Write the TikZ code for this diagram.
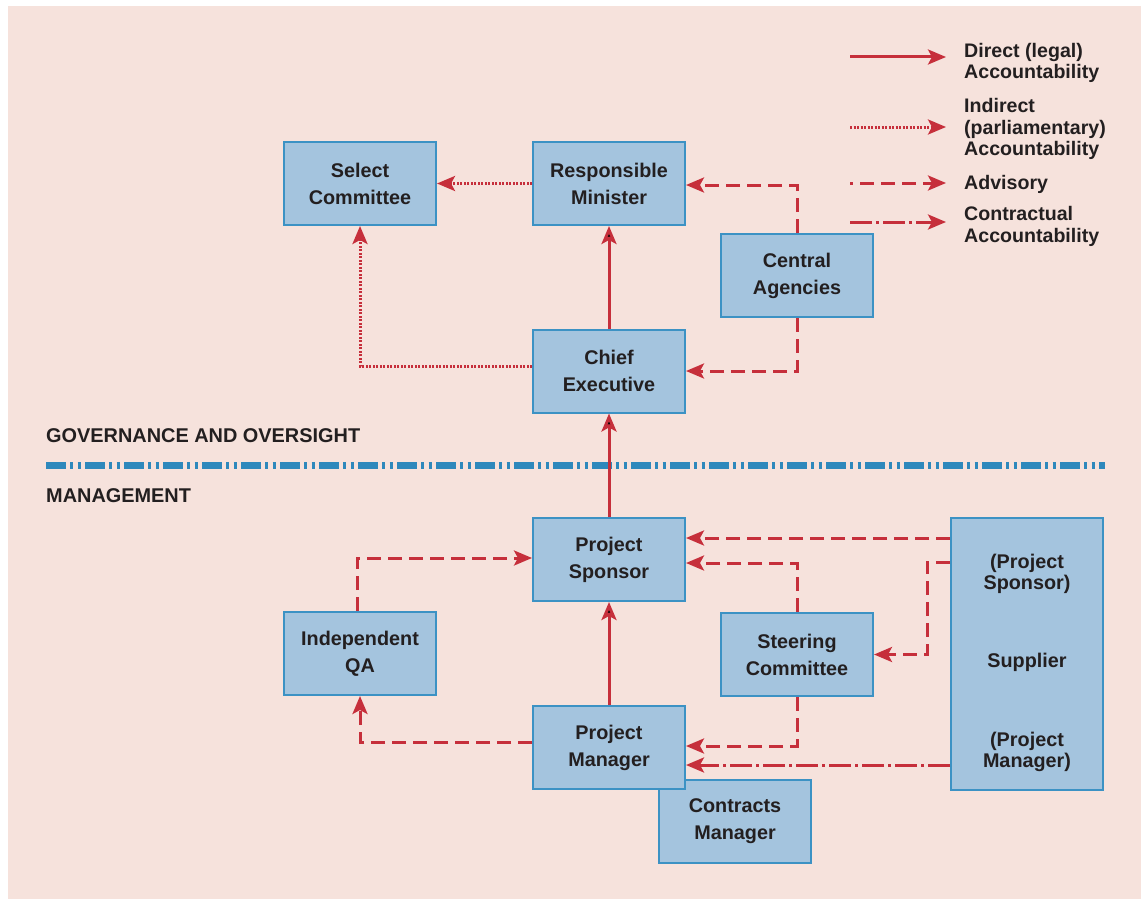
\documentclass[tikz,border=0pt]{standalone}
\usepackage{fontspec}
\setmainfont{Liberation Sans}
\usetikzlibrary{arrows.meta}

\definecolor{bgpink}{HTML}{F6E2DC}
\definecolor{boxfill}{HTML}{A4C4DE}
\definecolor{boxline}{HTML}{3C92C4}
\definecolor{arrowred}{HTML}{C62F3B}
\definecolor{divblue}{HTML}{2E88BC}
\definecolor{textdark}{HTML}{231F20}

\begin{document}
\begin{tikzpicture}[x=1pt,y=-1pt,>={Stealth[length=18pt,width=15pt,inset=4pt]},
    box/.style={shape=rectangle,draw=boxline,fill=boxfill,line width=2pt,minimum width=152pt,minimum height=83pt,inner sep=0pt,align=center,text=textdark,font=\fontsize{19.8}{27}\selectfont\bfseries},
    boxtext/.style={align=center,inner sep=0pt,text=textdark,font=\fontsize{19.8}{21}\selectfont\bfseries},
    legend/.style={align=left,inner sep=0pt,text=textdark,font=\fontsize{19.6}{21.3}\selectfont\bfseries},
    section/.style={anchor=west,inner sep=0pt,text=textdark,font=\fontsize{19.9}{23}\selectfont\bfseries},
    direct/.style={->,draw=arrowred,line width=3pt},
    indirect/.style={direct,dash pattern=on 2pt off 1.5pt},
    advisory/.style={direct,dash pattern=on 14pt off 7pt},
    contract/.style={direct,dash pattern=on 22pt off 4pt on 3pt off 4pt},
    divider/.style={draw=divblue,line width=7pt,dash pattern=on 20pt off 4pt on 3pt off 4.5pt on 3pt off 4.5pt}]
    \useasboundingbox (0,0) rectangle (1141,899);
    \fill[bgpink] (8,6) rectangle (1141,899);

    % governance
    \node[box](sc)at(360, 183.5){Select\\Committee};
    \node[box](rm)at(609, 183.5){Responsible\\Minister};
    \node[box](ca)at(797, 275.5){Central\\Agencies};
    \node[box](ce)at(609, 371){Chief\\Executive};

    \node[section](gov)at(46, 436){GOVERNANCE AND OVERSIGHT};
    \draw[divider] (46, 465) -- (1105, 465);
    \node[section](mgt)at(46, 496){MANAGEMENT};

    % management
    \node[box](ps)at(609, 559.5){Project\\Sponsor};
    \node[box](iqa)at(360, 653.5){Independent\\QA};
    \node[box](stc)at(797, 654.5){Steering\\Committee};
    \node[box](cm)at(735, 821.5){Contracts\\Manager};
    \node[box](pm)at(609, 747.5){Project\\Manager};
    \node[box,minimum height=272pt](sup)at(1027, 654){};
    \node[boxtext](supps)at(1027, 574){(Project\\Sponsor)};
    \node[boxtext](supname)at(1027, 662){Supplier};
    \node[boxtext](suppm)at(1027, 752){(Project\\Manager)};

    % legend
    \node[legend,anchor=west](lg1)at(964, 63){Direct (legal)\\Accountability};
    \node[legend,anchor=west](lg2)at(964, 129){Indirect\\(parliamentary)\\Accountability};
    \node[legend,anchor=west](lg3)at(964, 184){Advisory};
    \node[legend,anchor=west](lg4)at(964, 226.5){Contractual\\Accountability};
    \draw[direct] ([shift={(-114pt,6pt)}]lg1.west) -- ([shift={(-18pt,6pt)}]lg1.west);
    \draw[indirect] ([shift={(-114pt,2pt)}]lg2.west) -- ([shift={(-18pt,2pt)}]lg2.west);
    \draw[advisory,dash phase=11pt] ([shift={(-114pt,1pt)}]lg3.west) -- ([shift={(-18pt,1pt)}]lg3.west);
    \draw[contract] ([shift={(-114pt,4.5pt)}]lg4.west) -- ([shift={(-18pt,4.5pt)}]lg4.west);

    % accountability lines
    \path[direct](ce) edge (rm)
    (ps) edge (ce)
    (pm) edge (ps);
    \draw[indirect] (rm) -- (sc);
    \draw[indirect] ([yshift=5pt]ce.west) -| (sc);
    \draw[advisory] (ca) |- ([yshift=-1.5pt]rm.east);
    \draw[advisory] (ca) |- (ce);
    \draw[advisory] ([xshift=-3pt]iqa.north) |- ([yshift=1.5pt]ps.west);
    \draw[advisory] ([yshift=5.5pt]pm.west) -| (iqa);
    \draw[advisory] (stc) |- ([yshift=-3.5pt]ps.east);
    \draw[advisory] (stc) |- ([yshift=1.5pt]pm.east);
    \coordinate (psin) at ([yshift=21.5pt]ps.east);
    \draw[advisory] (sup.west |- psin) -- (psin);
    \draw[advisory] ([yshift=92pt]sup.west) -- ++(-23, 0) |- (stc);
    \coordinate (pmin) at ([yshift=-17.5pt]pm.east);
    \draw[contract] (sup.west |- pmin) -- (pmin);
\end{tikzpicture}
\end{document}
